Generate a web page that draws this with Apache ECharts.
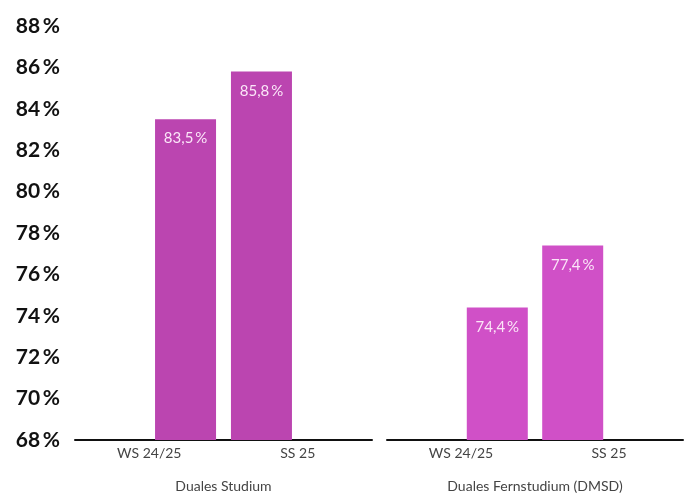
<!DOCTYPE html>
<html><head><meta charset="utf-8">
<script src="https://cdn.jsdelivr.net/npm/echarts@6/dist/echarts.min.js"></script>
<style>html,body{margin:0;padding:0;background:#fff;overflow:hidden}#c{width:687px;height:493px}</style>
</head><body><div id="c"></div>
<script>
const categories = ['WS 24/25', 'SS 25'];
const groups = ['Duales Studium', 'Duales Fernstudium (DMSD)'];
const dualesStudium = [83.5, 85.8];
const dualesFernstudium = [74.4, 77.4];
const yMin = 68, yMax = 88, yStep = 2;
const colors = ['#BB45B0', '#D050C7'];
const FONT = 'Lato';

const chart = echarts.init(document.getElementById('c'), null, {width: 687, height: 493});
const fmt = v => v.toFixed(1).replace('.', ',') + '\u2009%';
const groupValues = [dualesStudium, dualesFernstudium];
const grids = [
  {left: 75, width: 297, top: 26, height: 414, outerBoundsMode: 'none', containLabel: false},
  {left: 387, width: 296, top: 26, height: 414, outerBoundsMode: 'none', containLabel: false}
];

const series = [];
groupValues.forEach((vals, gi) => {
  const mk = (data) => ({
    type: 'bar', xAxisIndex: gi, yAxisIndex: gi, data: data,
    barWidth: 61, barGap: '19%',
    itemStyle: {color: colors[gi]},
    label: {show: true, position: 'insideTop', distance: 12, color: '#FBE6F8',
      fontFamily: FONT, fontSize: 15, formatter: p => p.value == null ? '' : fmt(p.value)},
    silent: true
  });
  series.push(mk(vals.map((v, i) => i === 1 ? v : null)));
  series.push(mk(vals.map((v, i) => i === 0 ? v : null)));
});

chart.setOption({
  animation: false,
  grid: grids,
  xAxis: groups.map((g, gi) => ({
    type: 'category', gridIndex: gi, data: categories,
    axisLine: {lineStyle: {color: '#111', width: 2}},
    axisTick: {show: false},
    axisLabel: {color: '#444', fontFamily: FONT, fontSize: 14, margin: 6},
    name: g, nameLocation: 'middle', nameGap: 39,
    nameTextStyle: {color: '#444', fontFamily: FONT, fontSize: 14}
  })),
  yAxis: groups.map((g, gi) => ({
    type: 'value', gridIndex: gi, min: yMin, max: yMax, interval: yStep,
    splitLine: {show: false}, axisLine: {show: false}, axisTick: {show: false},
    axisLabel: {show: gi === 0, color: '#111', fontFamily: FONT, fontWeight: 'bold', fontSize: 21,
      margin: 15, formatter: v => v + '\u2009%'}
  })),
  series: series
});
</script></body></html>
